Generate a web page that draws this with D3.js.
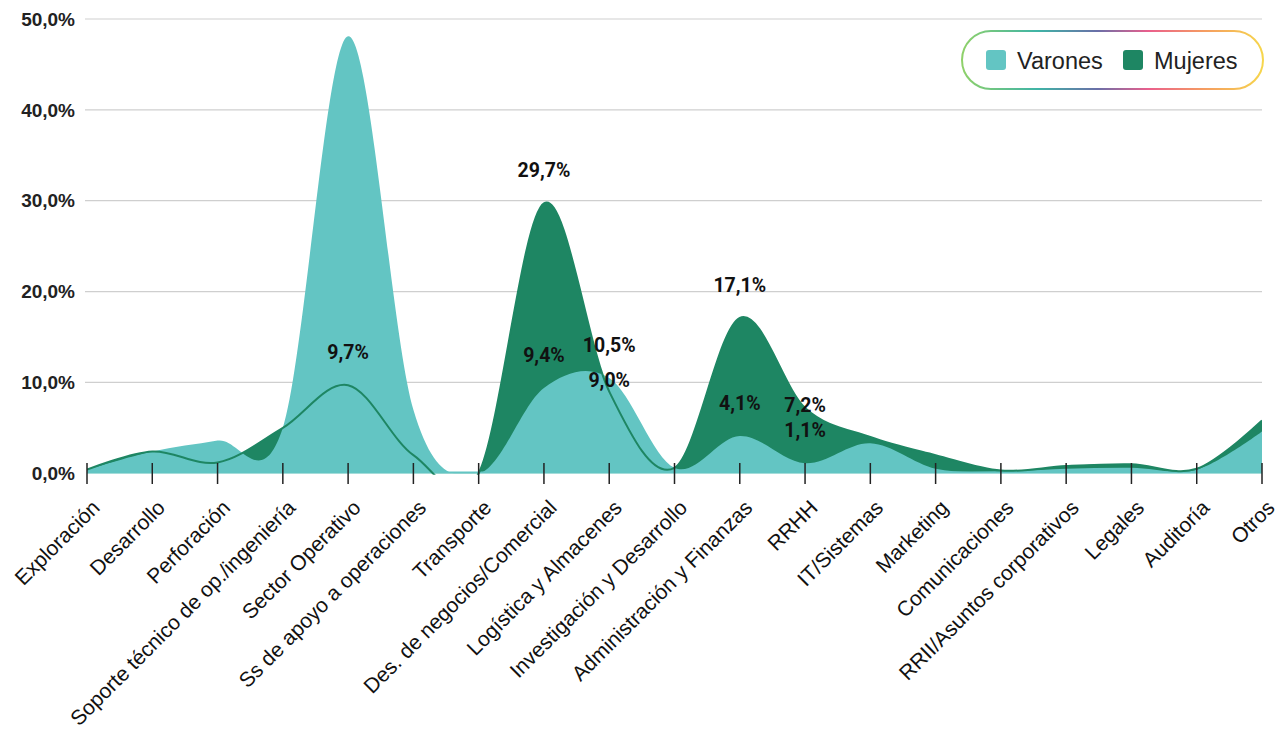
<!DOCTYPE html>
<html>
<head>
<meta charset="utf-8">
<script src="https://cdn.jsdelivr.net/npm/d3@7"></script>
<style>
  html, body { margin: 0; padding: 0; background: #fff; }
  svg { display: block; }
</style>
</head>
<body>
<svg id="chart" width="1288" height="745"></svg>
<script>
// ---- data ----
const categories = ["Exploración", "Desarrollo", "Perforación", "Soporte técnico de op./ingeniería",
  "Sector Operativo", "Ss de apoyo a operaciones", "Transporte", "Des. de negocios/Comercial",
  "Logística y Almacenes", "Investigación y Desarrollo", "Administración y Finanzas", "RRHH",
  "IT/Sistemas", "Marketing", "Comunicaciones", "RRII/Asuntos corporativos", "Legales", "Auditoría", "Otros"];
const varones = [0.4, 2.4, 3.6, 5.0, 48.1, 7.0, 0.0, 9.4, 10.5, 0.6, 4.1, 1.1, 3.3, 0.5, 0.2, 0.5, 0.6, 0.4, 4.6];
const mujeres = [0.4, 2.4, 1.2, 5.0, 9.7, 2.0, 0.0, 29.7, 9.0, 0.6, 17.1, 7.2, 4.0, 2.0, 0.3, 0.8, 1.0, 0.5, 5.8];
const yTicks = [0, 10, 20, 30, 40, 50];
const seriesNames = ["Varones", "Mujeres"];
// labelled points: [series, category index]
const labelPoints = [["M", 4], ["M", 7], ["V", 7], ["V", 8], ["M", 8], ["M", 10], ["V", 10], ["M", 11], ["V", 11]];

// ---- layout / style ----
const colV = "#63c5c3", colM = "#1e8663";
const labelShift = { "M8": -11.5, "M11": -3 }; // default -33 (label centre above point)
const svg = d3.select("#chart");
const x = d3.scalePoint().domain(d3.range(categories.length)).range([87, 1262]);
const y = d3.scaleLinear().domain([0, 50]).range([473.3, 19]);
const fmt = v => d3.format(".1f")(v).replace(".", ",") + "%";
const sans = "'Liberation Sans', Arial, Helvetica, sans-serif";

// gridlines
svg.append("g").selectAll("line").data(yTicks.filter(t => t > 0)).join("line")
  .attr("x1", 85).attr("x2", 1262).attr("y1", d => y(d)).attr("y2", d => y(d))
  .attr("stroke", "#cfcfcf").attr("stroke-width", 1.2);

// y labels
svg.append("g").selectAll("text").data(yTicks).join("text")
  .attr("x", 75).attr("y", d => y(d)).attr("dy", "0.35em")
  .attr("text-anchor", "end")
  .attr("font-family", sans).attr("font-weight", "bold")
  .attr("font-size", 19).attr("fill", "#222")
  .text(d => fmt(d));

// clips
const defs = svg.append("defs");
defs.append("clipPath").attr("id", "plot").append("rect")
  .attr("x", 87).attr("y", 0).attr("width", 1262 - 87).attr("height", 473.3);
defs.append("clipPath").attr("id", "plotLine").append("rect")
  .attr("x", 87).attr("y", 0).attr("width", 1262 - 87).attr("height", 474.8);

const curve = d3.curveCardinal.tension(0);
const area = vals => d3.area().curve(curve).x((d, i) => x(i)).y0(y(0)).y1(d => y(d))(vals);
const line = vals => d3.line().curve(curve).x((d, i) => x(i)).y(d => y(d))(vals);

const g = svg.append("g").attr("clip-path", "url(#plot)");
g.append("path").attr("d", area(mujeres)).attr("fill", colM);
g.append("path").attr("d", area(varones)).attr("fill", colV);

// baseline
svg.append("line").attr("x1", 87).attr("x2", 1262).attr("y1", y(0) - 0.8).attr("y2", y(0) - 0.8)
  .attr("stroke", colV).attr("stroke-width", 2);

svg.append("g").attr("clip-path", "url(#plotLine)")
  .append("path").attr("d", line(mujeres)).attr("fill", "none").attr("stroke", colM).attr("stroke-width", 2);

// x ticks
svg.append("g").selectAll("line").data(d3.range(categories.length)).join("line")
  .attr("x1", d => x(d)).attr("x2", d => x(d)).attr("y1", 463).attr("y2", 484)
  .attr("stroke", "#222").attr("stroke-width", 1.5);

// x labels
svg.append("g").selectAll("text").data(categories).join("text")
  .attr("transform", (d, i) => `translate(${x(i) + 14},509) rotate(-45)`)
  .attr("text-anchor", "end")
  .attr("font-family", sans)
  .attr("font-size", 21).attr("fill", "#111")
  .text(d => d);

// value labels
svg.append("g").selectAll("text").data(labelPoints).join("text")
  .attr("x", d => x(d[1]))
  .attr("y", d => {
    const v = d[0] === "V" ? varones[d[1]] : mujeres[d[1]];
    const s = labelShift[d[0] + d[1]];
    return y(v) + (s === undefined ? -33 : s);
  })
  .attr("dy", "0.35em").attr("text-anchor", "middle")
  .attr("font-family", "Roboto, Arial, sans-serif").attr("font-weight", "bold")
  .attr("font-size", 19.5).attr("fill", "#111")
  .text(d => fmt(d[0] === "V" ? varones[d[1]] : mujeres[d[1]]));

// legend
const grad = defs.append("linearGradient").attr("id", "lg").attr("x1", "0%").attr("x2", "100%");
[["0%", "#8fd16a"], ["25%", "#3fb4a6"], ["45%", "#6a6fa8"], ["62%", "#ea5f8c"], ["80%", "#f59b62"], ["100%", "#f6d64c"]]
  .forEach(s => grad.append("stop").attr("offset", s[0]).attr("stop-color", s[1]));
const lg = svg.append("g");
lg.append("rect").attr("x", 962).attr("y", 31).attr("width", 301).attr("height", 58).attr("rx", 29)
  .attr("fill", "#fff").attr("stroke", "url(#lg)").attr("stroke-width", 2);
const items = [{ name: seriesNames[0], c: colV, x: 986 }, { name: seriesNames[1], c: colM, x: 1123 }];
items.forEach(it => {
  lg.append("rect").attr("x", it.x).attr("y", 50).attr("width", 20).attr("height", 20).attr("rx", 3).attr("fill", it.c);
  lg.append("text").attr("x", it.x + 31).attr("y", 68.5)
    .attr("font-family", sans).attr("font-size", 23.5).attr("fill", "#222")
    .text(it.name);
});
</script>
</body>
</html>
